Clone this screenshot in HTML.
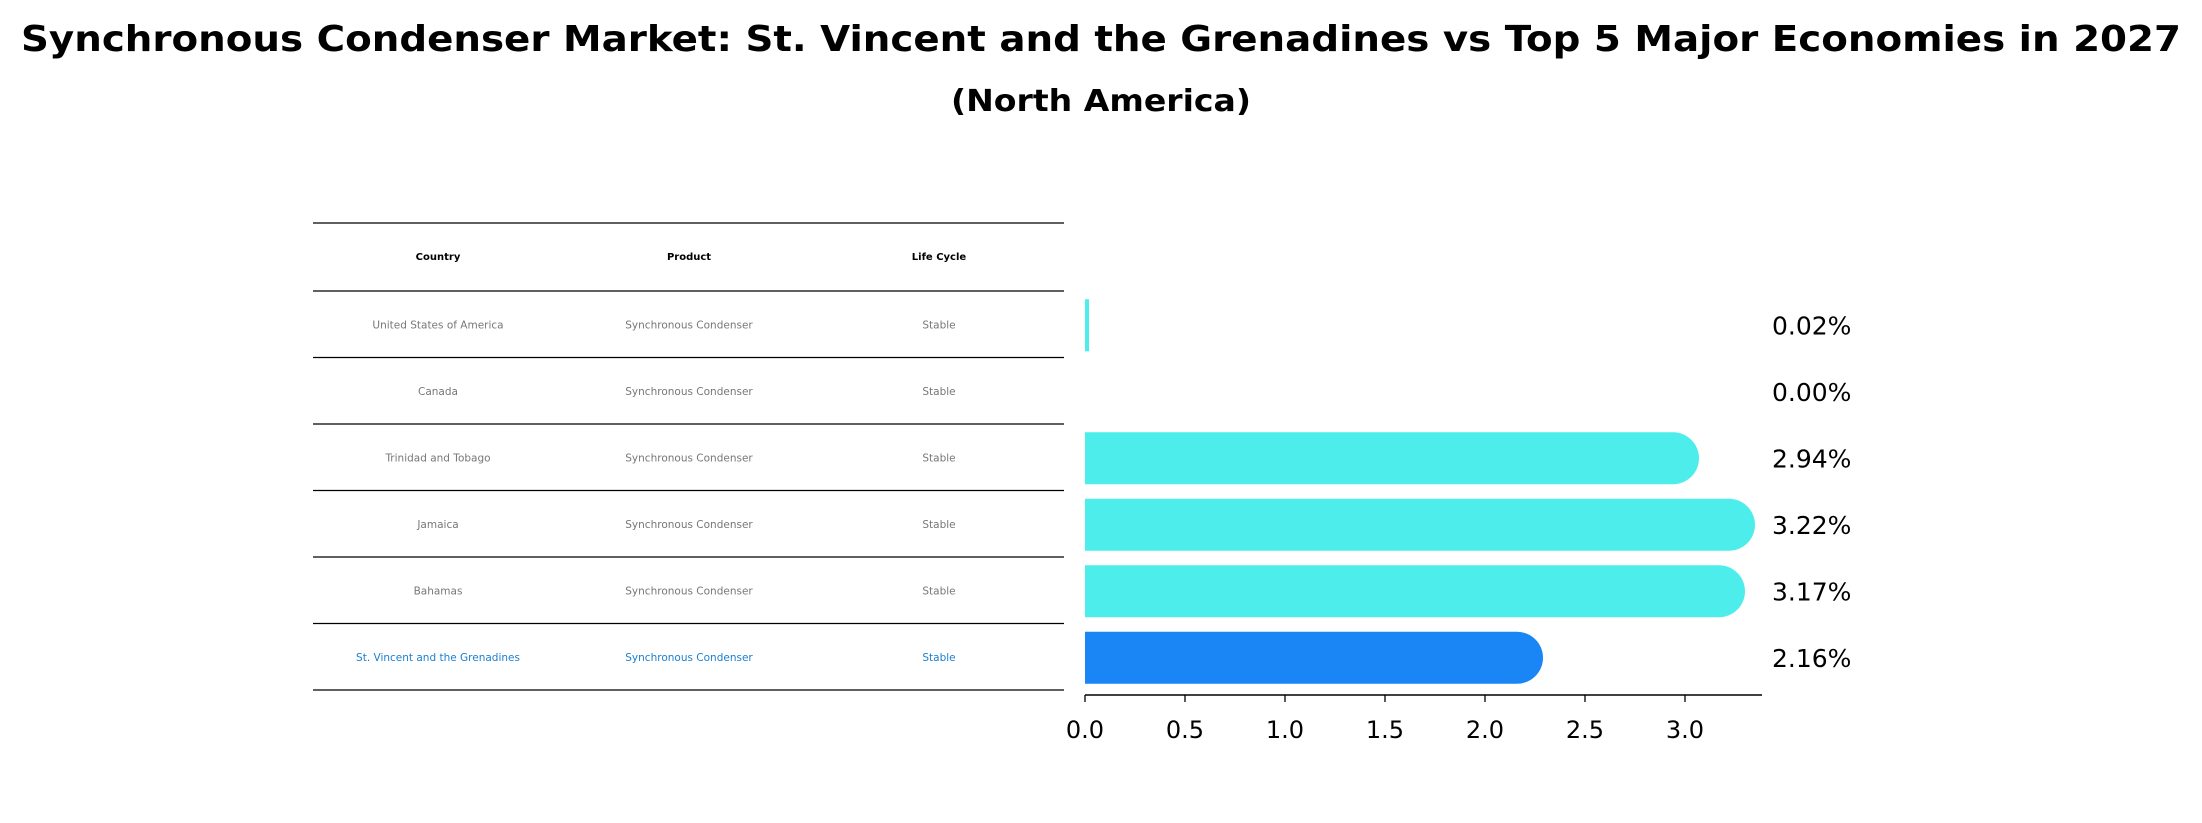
<!DOCTYPE html>
<html><head><meta charset="utf-8"><style>
body{margin:0;background:#fff}
svg{display:block;font-family:"DejaVu Sans","Liberation Sans",sans-serif}
</style></head><body>
<svg width="2202" height="823" viewBox="0 0 2202 823">
<text x="1101" y="51" text-anchor="middle" font-size="36" font-weight="bold" textLength="2160" lengthAdjust="spacingAndGlyphs">Synchronous Condenser Market: St. Vincent and the Grenadines vs Top 5 Major Economies in 2027</text>
<text x="1101" y="111" text-anchor="middle" font-size="30" font-weight="bold" textLength="300" lengthAdjust="spacingAndGlyphs">(North America)</text>
<g id="table"></g>
<g id="bars"></g>
<g id="axis"></g>
</svg>
<script>
const countries=["United States of America","Canada","Trinidad and Tobago","Jamaica","Bahamas","St. Vincent and the Grenadines"];
const values=[0.02,0.00,2.94,3.22,3.17,2.16];
const labels=["0.02%","0.00%","2.94%","3.22%","3.17%","2.16%"];
const ticks=[0,0.5,1.0,1.5,2.0,2.5,3.0];
const NS="http://www.w3.org/2000/svg";
function mk(tag,attrs,parent,txt){const e=document.createElementNS(NS,tag);for(const k in attrs)e.setAttribute(k,attrs[k]);if(txt!==undefined)e.textContent=txt;parent.appendChild(e);return e;}
const x0=1085, unit=200, rowTop=291, rowH=66.5, barH=52;
const xs=v=>x0+v*unit;
const yc=i=>rowTop+rowH*i+rowH/2+1;
const table=document.getElementById('table');
const lineYs=[223,rowTop];
for(let i=1;i<=countries.length;i++)lineYs.push(rowTop+rowH*i);
lineYs.forEach(y=>{const l=mk('line',{x1:313,x2:1064,y1:y,y2:y,stroke:'#000','stroke-width':1.3},table);

});
const cols=[438,689,939];
["Country","Product","Life Cycle"].forEach((h,j)=>{const t=mk('text',{x:cols[j],y:260,'text-anchor':'middle','font-size':10,'font-weight':'bold'},table,h);

});
countries.forEach((c,i)=>{const col=i===countries.length-1?'#1a7fd0':'#777';
[c,"Synchronous Condenser","Stable"].forEach((s,j)=>{const t=mk('text',{x:cols[j],y:rowTop+rowH*i+rowH/2+4,'text-anchor':'middle','font-size':10.5,fill:col},table,s);

});});
const bars=document.getElementById('bars');
values.forEach((v,i)=>{const y=yc(i)-barH/2, xe=xs(v);const color=i===values.length-1?'#1a86f5':'#4dedec';
let el;
if(v>=0.15){const r=barH/2;
el=mk('path',{d:`M${x0},${y} H${xe} A${r} ${r} 0 0 1 ${xe} ${y+barH} H${x0} Z`,fill:color},bars);}
else{el=mk('rect',{x:x0,y:y,width:v>0?Math.max(v*unit,3):0,height:barH,fill:color},bars);}


const t=mk('text',{x:1772,y:yc(i)+9,'font-size':25,'text-anchor':'start'},bars,labels[i]);

});
const axis=document.getElementById('axis');
const al=mk('line',{x1:x0,x2:1762,y1:695,y2:695,stroke:'#000','stroke-width':1.5},axis);


ticks.forEach(t=>{const x=xs(t);const tk=mk('line',{x1:x,x2:x,y1:695,y2:702,stroke:'#000','stroke-width':1.3},axis);


const tl=mk('text',{x:x,y:738,'text-anchor':'middle','font-size':24},axis,t.toFixed(1));

});
</script>
</body></html>
